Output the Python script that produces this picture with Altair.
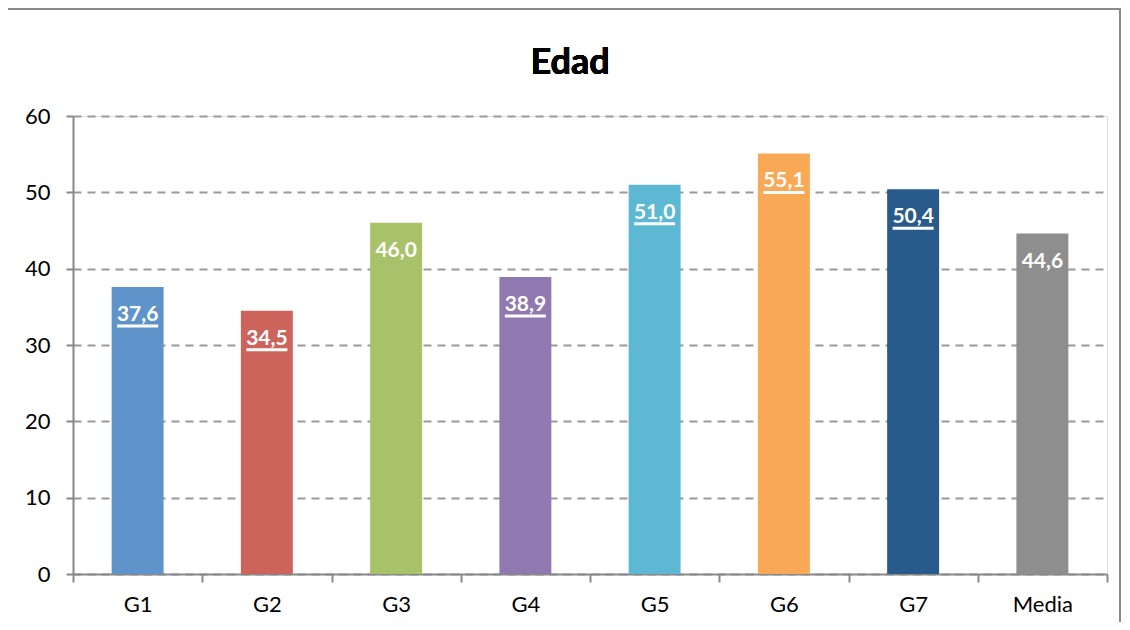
import altair as alt
import pandas as pd

categories = ["G1", "G2", "G3", "G4", "G5", "G6", "G7", "Media"]
values = [37.6, 34.5, 46.0, 38.9, 51.0, 55.1, 50.4, 44.6]
labels = ["37,6", "34,5", "46,0", "38,9", "51,0", "55,1", "50,4", "44,6"]
underlined = [True, True, False, True, True, True, True, False]
colors = ["#5E94CA", "#CD645B", "#A8C26A", "#9079B0", "#5CB8D3", "#F9A856", "#285B8C", "#8E8E8E"]
title_text = "Edad"

df = pd.DataFrame({"cat": categories, "val": values, "lab": labels, "u": underlined})

W, H = 1034, 458
FONT = "Lato"

x = alt.X("cat:N", sort=categories, title=None,
          scale=alt.Scale(paddingInner=0, paddingOuter=0),
          axis=alt.Axis(labelAngle=0, labelFontSize=22, labelColor="#000", labelFont=FONT,
                        tickBand="extent", tickSize=8, tickColor="#888", tickWidth=2,
                        domainColor="#888", domainWidth=2, labelPadding=12, grid=False))
y = alt.Y("val:Q", title=None,
          scale=alt.Scale(domain=[0, 60], nice=False),
          axis=alt.Axis(values=[0, 10, 20, 30, 40, 50, 60], labelFontSize=22, labelColor="#000",
                        labelFont=FONT, tickSize=7, tickColor="#888", tickWidth=2,
                        domainColor="#888", domainWidth=2, labelPadding=16,
                        grid=True, gridColor="#999", gridWidth=2, gridDash=[8, 6]))

base = alt.Chart(df)

border = base.mark_rect(fill="white", fillOpacity=0, stroke="#8a8a8a", strokeWidth=2).encode(
    x=alt.value(-66), x2=alt.value(1047), y=alt.value(-107), y2=alt.value(560)
)

title = base.mark_text(fontSize=36, font=FONT, fontWeight="bold", color="#000",
                       align="center", baseline="alphabetic").encode(
    x=alt.value(W / 2 - 20), y=alt.value(-42), text=alt.value(title_text)
)

bars = base.mark_bar(width=alt.RelativeBandSize(0.402), opacity=1).encode(
    x=x, y=y,
    color=alt.Color("cat:N", sort=categories,
                    scale=alt.Scale(domain=categories, range=colors), legend=None),
)

text = base.mark_text(color="white", fontWeight="bold", fontSize=21, font=FONT,
                      baseline="middle", dy=28).encode(
    x=alt.X("cat:N", sort=categories), y="val:Q", text="lab:N"
)

under = base.transform_filter("datum.u").mark_tick(color="white", opacity=1, size=41,
                                                   thickness=3, yOffset=39).encode(
    x=alt.X("cat:N", sort=categories), y="val:Q"
)

chart = alt.layer(border, title, bars, text, under).properties(
    width=W, height=H,
    autosize=alt.AutoSizeParams(type="none"),
    padding={"left": 65, "top": 108, "right": 14, "bottom": 48},
).configure_view(stroke=None).configure(background="white")

chart.save("out.html", embed_options={"renderer": "svg", "actions": False})
